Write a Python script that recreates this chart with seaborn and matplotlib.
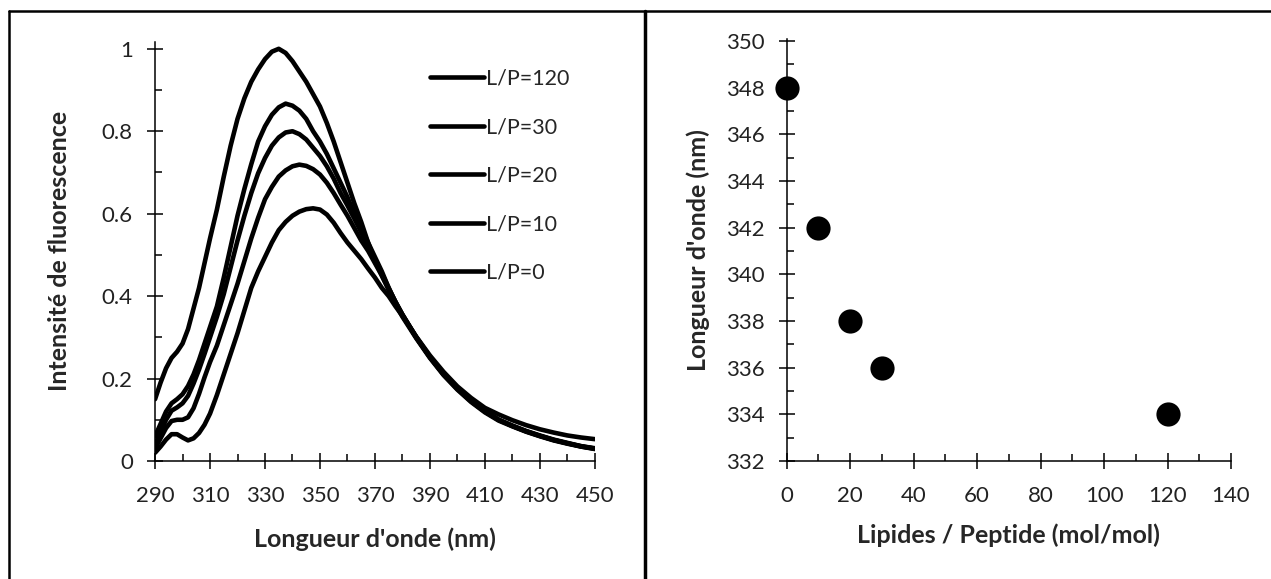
import numpy as np
import pandas as pd
import seaborn as sns
import matplotlib.pyplot as plt
from matplotlib.lines import Line2D
from matplotlib.ticker import MultipleLocator

# Wavelengths (nm) for the emission spectra
wavelength = [290, 292, 294, 296, 298, 300, 302, 304, 306, 308, 310,
              312.5, 315, 317.5, 320, 322.5, 325, 327.5, 330, 332.5, 335,
              337.5, 340, 342.5, 345, 347.5, 350, 352.5, 355, 357.5, 360,
              362.5, 365, 367.5, 370, 372.5, 375, 377.5, 380,
              385, 390, 395, 400, 405, 410, 415, 420, 425, 430, 435, 440, 445, 450]

# Normalised fluorescence intensity, one list per lipid/peptide ratio
lp120 = [0.15, 0.19, 0.225, 0.25, 0.265, 0.285, 0.32, 0.37, 0.42, 0.48, 0.54,
         0.61, 0.69, 0.765, 0.83, 0.88, 0.92, 0.95, 0.975, 0.993, 1.0,
         0.99, 0.97, 0.945, 0.92, 0.89, 0.86, 0.82, 0.775, 0.725, 0.675,
         0.625, 0.58, 0.53, 0.485, 0.45, 0.415, 0.38, 0.35,
         0.298, 0.25, 0.208, 0.173, 0.143, 0.118, 0.098, 0.084, 0.071, 0.06, 0.05, 0.042, 0.035, 0.03]
lp30 = [0.06, 0.09, 0.12, 0.14, 0.15, 0.162, 0.182, 0.21, 0.245, 0.285, 0.325,
        0.375, 0.445, 0.52, 0.595, 0.66, 0.72, 0.775, 0.812, 0.84, 0.858,
        0.867, 0.862, 0.85, 0.83, 0.8, 0.775, 0.745, 0.71, 0.675, 0.64,
        0.6, 0.565, 0.53, 0.495, 0.46, 0.42, 0.385, 0.355,
        0.3, 0.252, 0.21, 0.175, 0.145, 0.12, 0.1, 0.085, 0.072, 0.061, 0.051, 0.043, 0.036, 0.031]
lp20 = [0.04, 0.07, 0.10, 0.122, 0.13, 0.14, 0.158, 0.188, 0.222, 0.26, 0.30,
        0.35, 0.405, 0.47, 0.535, 0.595, 0.65, 0.698, 0.735, 0.765, 0.785,
        0.797, 0.8, 0.793, 0.78, 0.76, 0.74, 0.715, 0.685, 0.65, 0.62,
        0.588, 0.555, 0.522, 0.49, 0.455, 0.42, 0.385, 0.355,
        0.301, 0.253, 0.211, 0.176, 0.146, 0.121, 0.1, 0.086, 0.073, 0.062, 0.052, 0.044, 0.036, 0.03]
lp10 = [0.03, 0.055, 0.08, 0.097, 0.10, 0.10, 0.106, 0.128, 0.163, 0.203, 0.24,
        0.28, 0.33, 0.38, 0.43, 0.485, 0.54, 0.59, 0.635, 0.665, 0.69,
        0.705, 0.715, 0.719, 0.716, 0.708, 0.695, 0.675, 0.65, 0.622, 0.595,
        0.565, 0.535, 0.51, 0.48, 0.45, 0.417, 0.386, 0.355,
        0.3, 0.252, 0.21, 0.175, 0.145, 0.12, 0.1, 0.085, 0.072, 0.061, 0.051, 0.043, 0.035, 0.029]
lp0 = [0.02, 0.035, 0.052, 0.065, 0.065, 0.057, 0.05, 0.055, 0.068, 0.088, 0.115,
       0.16, 0.21, 0.26, 0.31, 0.365, 0.42, 0.46, 0.495, 0.53, 0.56,
       0.58, 0.595, 0.605, 0.611, 0.613, 0.61, 0.598, 0.578, 0.553, 0.53,
       0.51, 0.49, 0.467, 0.445, 0.42, 0.4, 0.375, 0.352,
       0.302, 0.256, 0.216, 0.181, 0.153, 0.129, 0.113, 0.099, 0.087, 0.077, 0.069, 0.062, 0.057, 0.053]

series_labels = ["L/P=120", "L/P=30", "L/P=20", "L/P=10", "L/P=0"]

# Emission maximum vs lipid/peptide ratio
ratio = [0, 10, 20, 30, 120]
lambda_max = [348, 342, 338, 336, 334]

spectra = pd.DataFrame({"wavelength": wavelength,
                        "L/P=120": lp120, "L/P=30": lp30, "L/P=20": lp20,
                        "L/P=10": lp10, "L/P=0": lp0})
spectra = spectra.melt(id_vars="wavelength", var_name="ratio", value_name="intensity")
shift = pd.DataFrame({"ratio": ratio, "lambda_max": lambda_max})

sns.set_style("ticks")
plt.rcParams['font.family'] = ['Lato', 'DejaVu Sans']
plt.rcParams['axes.linewidth'] = 1.1
plt.rcParams['lines.solid_joinstyle'] = 'round'
plt.rcParams['lines.solid_capstyle'] = 'round'

fig = plt.figure(figsize=(12.71, 5.79), dpi=100)
ax1 = fig.add_axes([0.122, 0.2038, 0.346, 0.724])
ax2 = fig.add_axes([0.619, 0.2038, 0.3495, 0.7295])

# Left: spectra
sns.lineplot(data=spectra, x="wavelength", y="intensity", hue="ratio",
             hue_order=series_labels, palette=["black"] * 5, linewidth=3.3,
             ax=ax1, sort=False)
ax1.set_xlim(290, 450)
ax1.set_ylim(0, 1.017)
ax1.set_xticks(list(range(290, 451, 20)))
ax1.xaxis.set_minor_locator(MultipleLocator(10))
ax1.set_yticks([0, 0.2, 0.4, 0.6, 0.8, 1.0])
ax1.set_yticklabels(["0", "0.2", "0.4", "0.6", "0.8", "1"])
ax1.yaxis.set_minor_locator(MultipleLocator(0.1))
ax1.set_xlabel("Longueur d'onde (nm)", fontsize=18, fontweight='bold')
ax1.set_ylabel("Intensité de fluorescence", fontsize=18, fontweight='bold')
ax1.xaxis.set_label_coords(0.5, -0.186)
ax1.yaxis.set_label_coords(-0.218, 0.5)
leg = ax1.legend(loc="upper left", bbox_to_anchor=(0.605, 0.957), frameon=False,
                 fontsize=15.5, handlelength=2.5, handletextpad=0.1,
                 labelspacing=1.33, borderaxespad=0)
for h in leg.get_lines():
    h.set_linewidth(3.3)

# Right: emission maximum
sns.scatterplot(data=shift, x="ratio", y="lambda_max", color="black", s=260,
                edgecolor="black", ax=ax2, zorder=3, clip_on=False)
ax2.set_xlim(0, 140)
ax2.set_ylim(332, 350.1)
ax2.xaxis.set_major_locator(MultipleLocator(20))
ax2.xaxis.set_minor_locator(MultipleLocator(10))
ax2.yaxis.set_major_locator(MultipleLocator(2))
ax2.yaxis.set_minor_locator(MultipleLocator(1))
ax2.set_xlabel("Lipides / Peptide (mol/mol)", fontsize=18, fontweight='bold')
ax2.set_ylabel("Longueur d'onde (nm)", fontsize=18, fontweight='bold')
ax2.xaxis.set_label_coords(0.5, -0.175)
ax2.yaxis.set_label_coords(-0.2, 0.5)

for ax in (ax1, ax2):
    sns.despine(ax=ax)
    ax.xaxis.label.set_va('center')
    ax.yaxis.label.set_va('center')
    ax.tick_params(which='major', direction='inout', length=12, width=1.1,
                   labelsize=16, color='black', labelcolor='#222222')
    ax.tick_params(which='minor', direction='in', length=5, width=1.1, color='black')
    ax.tick_params(axis='x', which='major', pad=12)
    ax.tick_params(axis='y', which='major', pad=10)
    ax.spines['left'].set_color('black')
    ax.spines['bottom'].set_color('black')

# Frame lines around the two panels
W, H = 1271, 579
fig.add_artist(Line2D([9 / W, 9 / W], [0, 1 - 11 / H], color='black', lw=1.8))
fig.add_artist(Line2D([9 / W, 1], [1 - 11 / H, 1 - 11 / H], color='black', lw=1.8))
fig.add_artist(Line2D([645 / W, 645 / W], [0, 1 - 11 / H], color='black', lw=2.5))

fig.savefig("out.png", dpi=100)
